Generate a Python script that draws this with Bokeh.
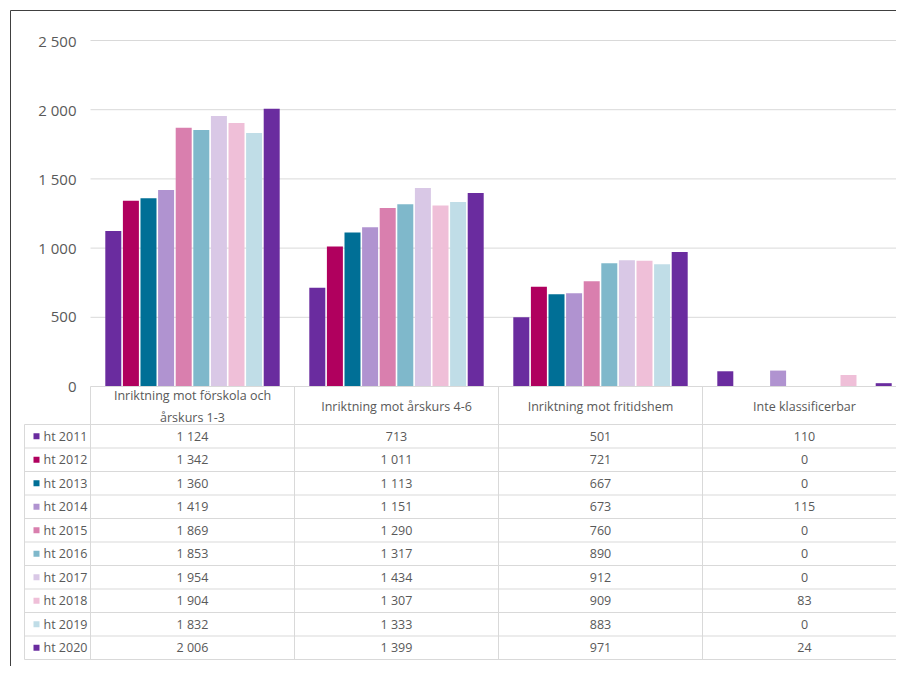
from bokeh.plotting import figure
from bokeh.models import Range1d
from bokeh.core.properties import value
from bokeh.embed import file_html
from bokeh.resources import INLINE

categories = ["Inriktning mot förskola och\nårskurs 1-3", "Inriktning mot årskurs 4-6",
              "Inriktning mot fritidshem", "Inte klassificerbar"]
years = ["ht 2011", "ht 2012", "ht 2013", "ht 2014", "ht 2015",
         "ht 2016", "ht 2017", "ht 2018", "ht 2019", "ht 2020"]
values = [
    [1124, 713, 501, 110],
    [1342, 1011, 721, 0],
    [1360, 1113, 667, 0],
    [1419, 1151, 673, 115],
    [1869, 1290, 760, 0],
    [1853, 1317, 890, 0],
    [1954, 1434, 912, 0],
    [1904, 1307, 909, 83],
    [1832, 1333, 883, 0],
    [2006, 1399, 971, 24],
]
colors = ["#6a2c9f", "#b0005e", "#006f96", "#b093d0", "#d97fae",
          "#7fb8cb", "#d9c8e6", "#efbfd8", "#c0dde7", "#6a2c9f"]
y_ticks = [0, 500, 1000, 1500, 2000, 2500]

W, H = 896, 666
OFF = 0
FONT = value("Open Sans")
GRID = "#d9d9d9"
TXT = "#595959"

def fmt(v):
    return f"{v:,}".replace(",", " ")

# data scale: 0 at page y=386, 2500 at page y=40
y0_top, y25_top = 386 - OFF, 40 - OFF
k = 2500 / (y0_top - y25_top)
p = figure(width=W, height=H, output_backend="svg", toolbar_location=None,
           x_range=Range1d(0, W),
           y_range=Range1d(-(H - y0_top) * k, 2500 + y25_top * k),
           min_border=0, outline_line_color=None)
p.axis.visible = False
p.grid.visible = False
p.extra_y_ranges = {"px": Range1d(H, 0)}

left, cw = 90 - OFF, 204
right = left + cw * 4

# gridlines and y labels
for t in y_ticks[1:]:
    p.segment(left, t, right, t, line_color=GRID, line_width=1)
p.text([left - 14] * len(y_ticks), y_ticks, text=[fmt(t) for t in y_ticks],
       text_align="right", text_baseline="middle", text_font=FONT,
       text_font_size="15px", text_color=TXT)

# bars
pitch, bw = 17.6, 16
for j, yr in enumerate(years):
    xs = [left + cw * (i + 0.5) + (j - 4.5) * pitch for i in range(4)]
    p.vbar(x=xs, top=values[j], width=bw, bottom=0, fill_color=colors[j], line_color=None)

# table lines (pixel coords from top)
hdr_top, hdr_bot = 386 - OFF, 424 - OFF
rh = 23.5
rows_bot = hdr_bot + rh * len(years)
tl = 24 - OFF
p.segment(left, hdr_top, right, hdr_top, line_color=GRID, y_range_name="px")
for r in range(len(years) + 1):
    yy = hdr_bot + rh * r
    p.segment(tl, yy, right, yy, line_color=GRID, y_range_name="px")
p.segment(tl, hdr_bot, tl, rows_bot, line_color=GRID, y_range_name="px")
for i in range(5):
    xx = left + cw * i
    p.segment(xx, hdr_top, xx, rows_bot, line_color=GRID, y_range_name="px")

# header texts
for i, c in enumerate(categories):
    p.text([left + cw * (i + 0.5)], [(hdr_top + hdr_bot) / 2 + 1], text=[c],
           text_align="center", text_baseline="middle", text_font=FONT,
           text_font_size="12.5px", text_color=TXT, text_line_height=1.35,
           y_range_name="px")

# rows
for j, yr in enumerate(years):
    yc = hdr_bot + rh * (j + 0.5)
    p.rect([tl + 12], [yc], width=6, height=6, fill_color=colors[j], line_color=None,
           y_range_name="px")
    p.text([tl + 19], [yc], text=[yr], text_baseline="middle", text_font=FONT,
           text_font_size="12.5px", text_color=TXT, y_range_name="px")
    p.text([left + cw * (i + 0.5) for i in range(4)], [yc] * 4,
           text=[fmt(v) for v in values[j]], text_align="center", text_baseline="middle",
           text_font=FONT, text_font_size="12.5px", text_color=TXT, y_range_name="px")

# outer frame
p.segment(10 - OFF, 10 - OFF, W, 10 - OFF, line_color="#404040", y_range_name="px")
p.segment(10 - OFF, 10 - OFF, 10 - OFF, H, line_color="#404040", y_range_name="px")

open("out.html", "w").write(file_html(p, INLINE))
